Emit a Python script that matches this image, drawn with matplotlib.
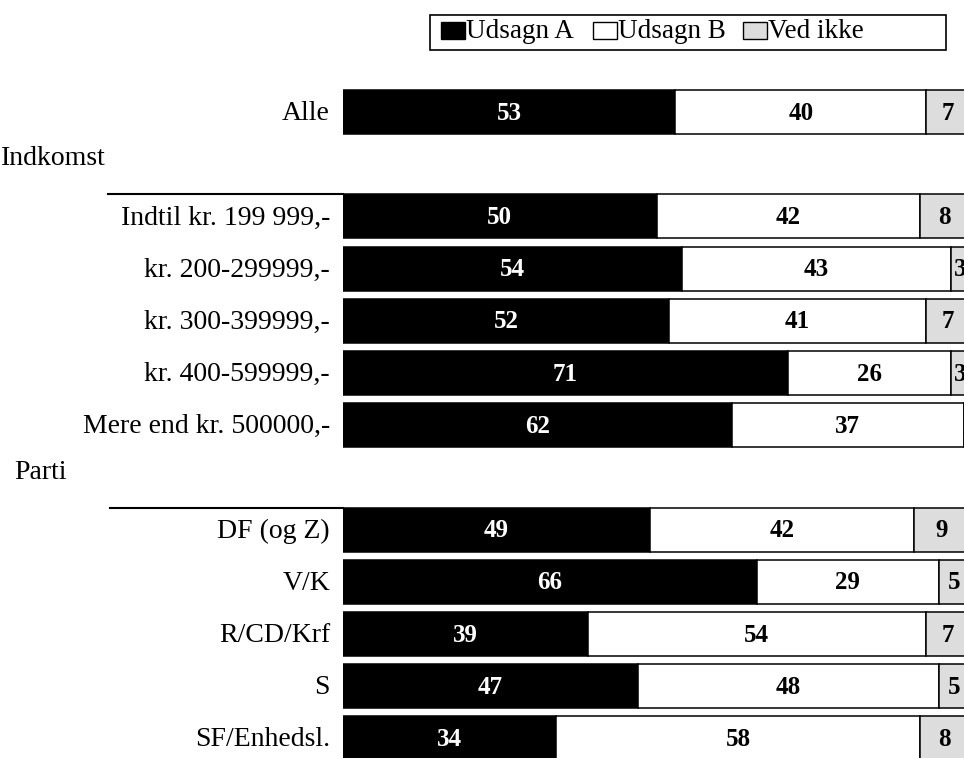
import matplotlib
matplotlib.use("Agg")
import matplotlib.pyplot as plt
import matplotlib.transforms as mtransforms
from matplotlib.patches import Rectangle

plt.rcParams['font.family'] = ['Liberation Serif', 'DejaVu Serif']

# ---------------- data ----------------
categories = ["Alle", None, "Indtil kr. 199 999,-", "kr. 200-299999,-", "kr. 300-399999,-",
              "kr. 400-599999,-", "Mere end kr. 500000,-", None,
              "DF (og Z)", "V/K", "R/CD/Krf", "S", "SF/Enhedsl."]
udsagn_a = [53, None, 50, 54, 52, 71, 62, None, 49, 66, 39, 47, 34]
udsagn_b = [40, None, 42, 43, 41, 26, 37, None, 42, 29, 54, 48, 58]
ved_ikke = [7, None, 8, 3, 7, 3, 1, None, 9, 5, 7, 5, 8]
group_headers = {1: "Indkomst", 7: "Parti"}
legend_labels = ["Udsagn A", "Udsagn B", "Ved ikke"]
colors = ["#000000", "#ffffff", "#dddddd"]
text_colors = ["white", "black", "black"]

W, H, DPI = 964, 758, 100
fig = plt.figure(figsize=(W / DPI, H / DPI), dpi=DPI)
ax_left_px = 343
ax = fig.add_axes([ax_left_px / W, 0, (W - ax_left_px) / W, 1])
ax.set_xlim(0, (W - ax_left_px) / 6.27)
row_px = 52.2
top_px = 112
ax.set_ylim((H - top_px) / row_px, -top_px / row_px)
ax.axis('off')

FS = 20
NFS = 18
for i, cat in enumerate(categories):
    if cat is None:
        continue
    left = 0
    for vals, col, tcol in zip([udsagn_a, udsagn_b, ved_ikke], colors, text_colors):
        v = vals[i]
        ax.barh(i, v, left=left, height=0.84, color=col, edgecolor='black',
                linewidth=1.1, clip_on=True)
        ax.text(left + v / 2, i + 0.02, str(v), ha='center', va='center', color=tcol,
                fontsize=NFS, fontweight='bold', clip_on=True)
        left += v

# category labels
trans = mtransforms.blended_transform_factory(fig.transFigure, ax.transData)
for i, cat in enumerate(categories):
    if cat is None:
        continue
    ax.text(330 / W, i + 0.03, cat, transform=trans, ha='right', va='center', fontsize=FS)

# group headers and separator lines
header_x = {1: 1, 7: 14}
line_x0 = {1: 108, 7: 110}
for i, name in group_headers.items():
    ax.text(header_x[i] / W, i - 0.1, name, transform=trans, ha='left', va='center',
            fontsize=FS)
    ax.plot([line_x0[i] / W, ax_left_px / W], [i + 0.58, i + 0.58], transform=trans,
            color='black', lw=1.5, clip_on=False)

# legend (manual box)
def fx(px):
    return px / W

def fy(py):
    return 1 - py / H

fig.patches.append(Rectangle((fx(430), fy(50)), fx(946) - fx(430), fy(15) - fy(50),
                             transform=fig.transFigure, facecolor='white',
                             edgecolor='black', lw=1.2))
sq_x = [441, 593, 743]
for x0, lab, col in zip(sq_x, legend_labels, colors):
    fig.patches.append(Rectangle((fx(x0), fy(39)), fx(24), 17 / H,
                                 transform=fig.transFigure, facecolor=col,
                                 edgecolor='black', lw=1.0))
    fig.text(fx(x0 + 25), fy(32), lab, ha='left', va='center', fontsize=19.5)

fig.savefig("out.png", dpi=DPI)
